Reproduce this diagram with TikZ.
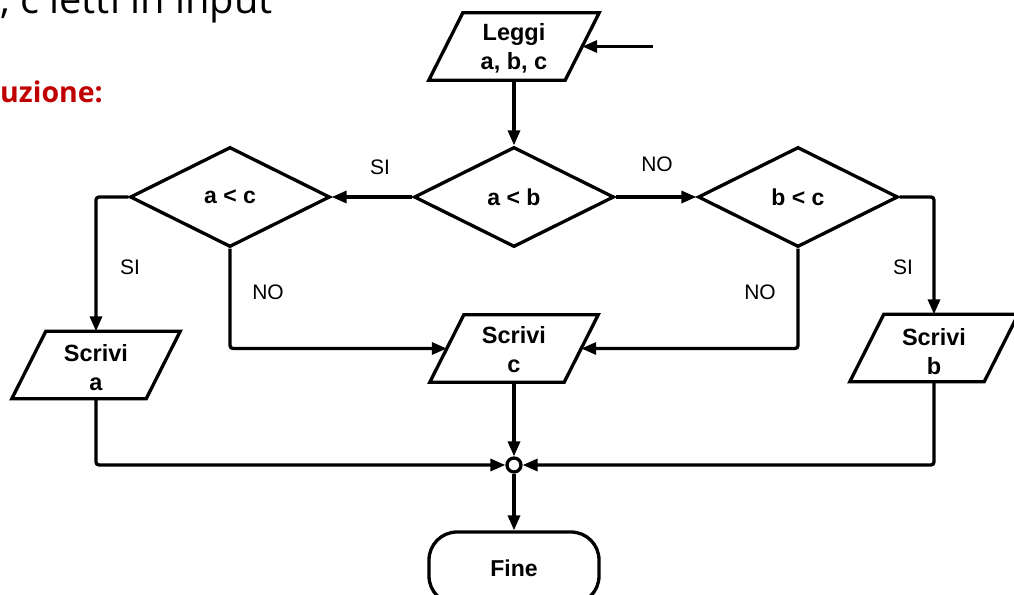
\documentclass[tikz,border=0pt]{standalone}
\usepackage{fontspec}
\setmainfont{Liberation Sans}
\newfontfamily\opensans{Open Sans}
\usetikzlibrary{shapes.geometric,arrows.meta}
\definecolor{darkred}{RGB}{192,0,0}
\begin{document}
\begin{tikzpicture}[x=1pt,y=-1pt,
  flow/.style={line width=3.3pt, rounded corners=3pt},
  arr/.style={flow, -{Triangle[length=15pt,width=12pt]}},
  frame/.style={minimum height=67pt, minimum width=134pt, inner sep=0pt},
  boxtext/.style={inner sep=0pt, align=center, font=\fontsize{23.5}{29}\selectfont\bfseries},
  decision/.style={diamond, draw, line width=3.3pt, minimum width=200pt, minimum height=100pt,
    inner sep=0pt, font=\fontsize{23}{26}\selectfont\bfseries},
  lbl/.style={inner sep=0pt, font=\fontsize{21}{24}\selectfont},
]
\useasboundingbox (0,0) rectangle (1014,594);

% text fragments at the top left
\node[anchor=base west, inner sep=0pt, font=\opensans\fontsize{39.8}{42}\selectfont] (intro) at (0,14) {, c letti in input};
\node[anchor=base west, inner sep=0pt, text=darkred, font=\opensans\fontsize{28.5}{30}\selectfont\bfseries] (sol) at (0,102) {uzione:};

% input / output boxes (parallelograms drawn around invisible frames)
\node[frame, minimum width=136pt] (leggi) at (514,46.5) {};
\node[frame] (sa) at (96,365) {};
\node[frame] (sc) at (514,348.5) {};
\node[frame] (sb) at (934,348) {};
\foreach \n in {leggi,sa,sc,sb}
  \draw[line width=3.3pt] ([xshift=17pt]\n.north west) -- ([xshift=17pt]\n.north east)
    -- ([xshift=-17pt]\n.south east) -- ([xshift=-17pt]\n.south west) -- cycle;
% box texts, nudged slightly below the frame centres
\node[boxtext] (leggi-t) at ([yshift=-2pt]leggi.center) {Leggi\\a, b, c};
\node[boxtext] (sa-t) at ([yshift=-2.5pt]sa.center) {Scrivi\\a};
\node[boxtext] (sc-t) at ([yshift=-1.5pt]sc.center) {Scrivi\\c};
\node[boxtext] (sb-t) at ([yshift=-3.5pt]sb.center) {Scrivi\\b};

% decisions
\node[decision] (ab) at (514,197) {a < b};
\node[decision] (ac) at (230,197) {a < c};
\node[decision] (bc) at (798,197) {b < c};

% junction and end
\node[circle, draw, line width=3.3pt, fill=white, minimum size=14pt, inner sep=0pt] (j) at (514,465) {};
\node[draw, line width=3.3pt, rounded corners=28pt, minimum width=170pt, minimum height=72pt,
  inner sep=0pt, font=\fontsize{23}{26}\selectfont\bfseries] (fine) at (514,568) {Fine};

% connectors
\coordinate (in) at (653,46.5);
\draw[arr] (in) -- (leggi.east);
\draw[arr] (leggi.south) -- (ab.north);
\draw[arr] (ab.west) -- (ac.east);
\draw[arr] (ab.east) -- (bc.west);
\draw[arr] (ac.west) -| (sa.north);
\draw[arr] (ac.south) |- (sc.west);
\draw[arr] (bc.south) |- (sc.east);
\draw[arr] (bc.east) -| (sb.north);
\draw[arr] (sa.south) |- (j.west);
\draw[arr] (sc.south) -- (j.north);
\draw[arr] (sb.south) |- (j.east);
\draw[arr] (j.south) -- (fine.north);

% branch labels
\node[lbl] (l1) at (380,167) {SI};
\node[lbl] (l2) at (657,164) {NO};
\node[lbl] (l3) at (130,267) {SI};
\node[lbl] (l4) at (268,292) {NO};
\node[lbl] (l5) at (760,292) {NO};
\node[lbl] (l6) at (903,267) {SI};
\end{tikzpicture}
\end{document}
